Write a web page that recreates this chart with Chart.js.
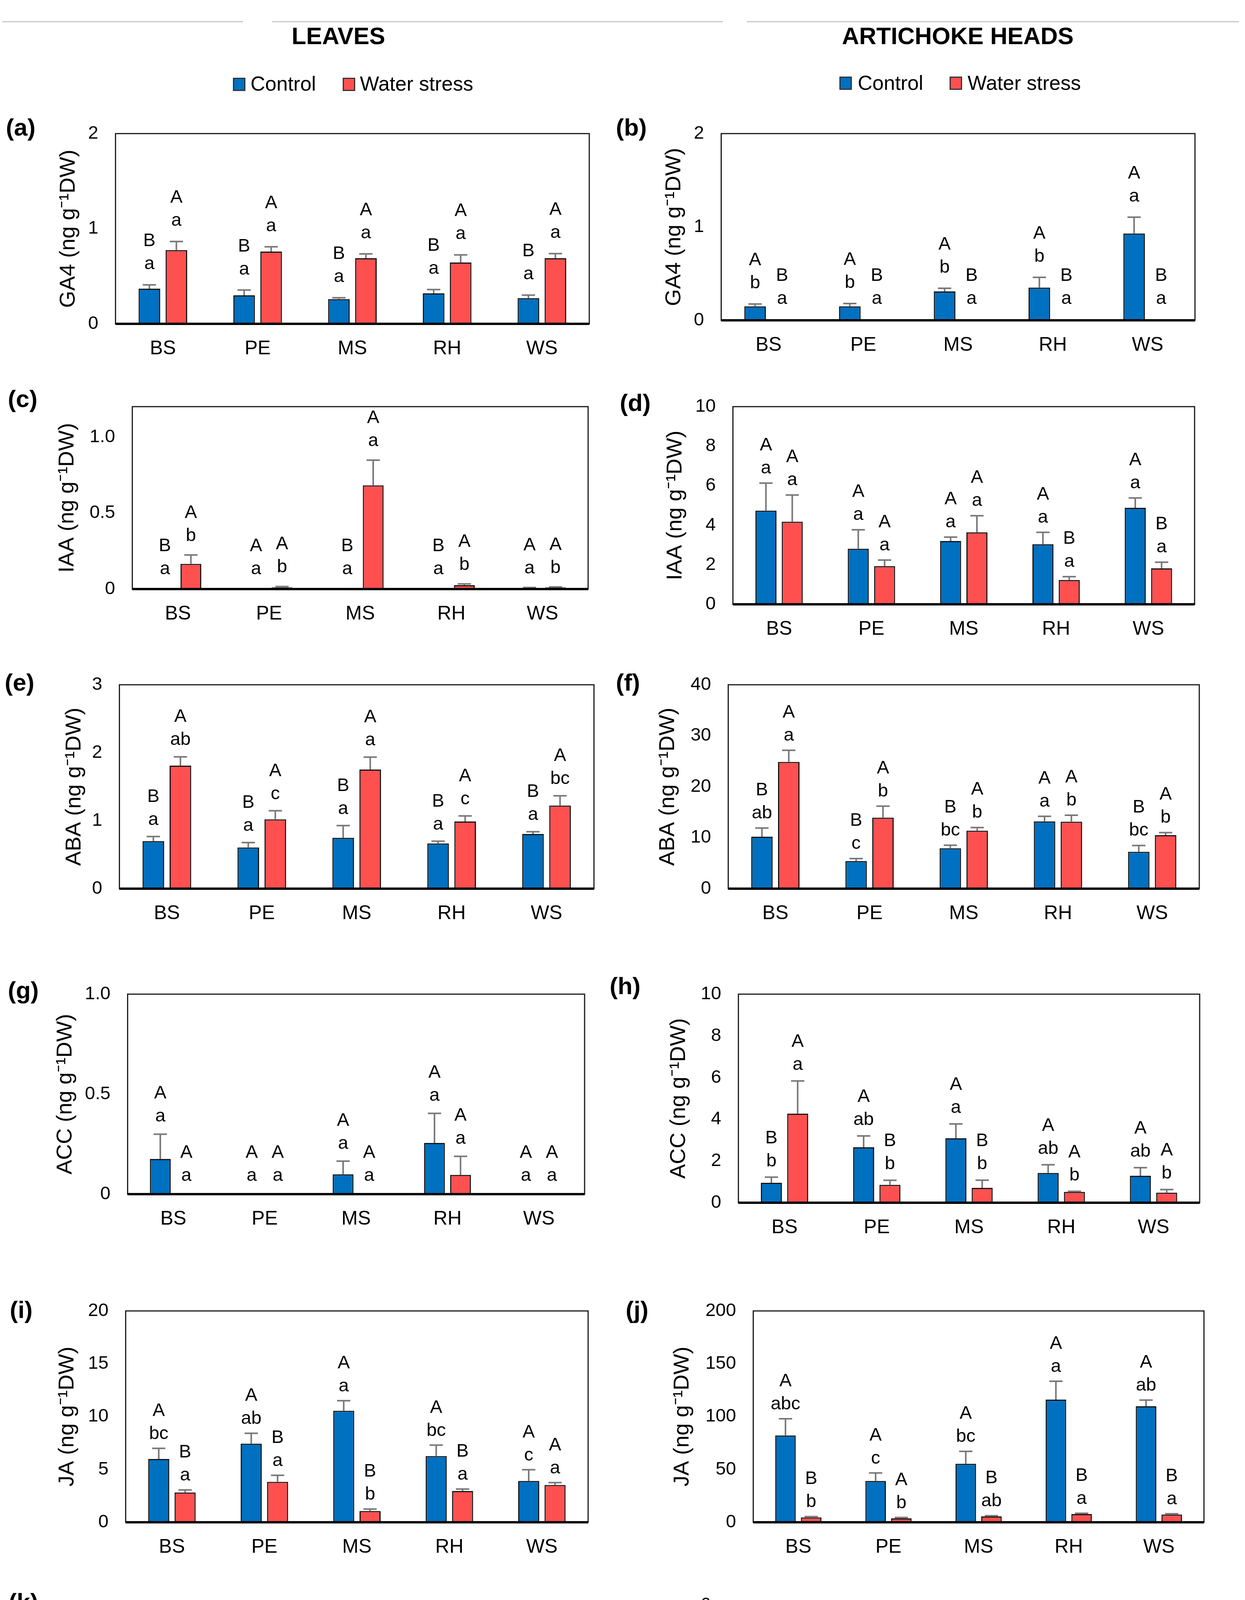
<!DOCTYPE html>
<html>
<head>
<meta charset="utf-8">
<script src="https://cdn.jsdelivr.net/npm/chart.js@4.4.1/dist/chart.umd.min.js"></script>
<style>
html, body { margin: 0; padding: 0; background: #fff; }
body { width: 3186px; height: 4746px; position: relative; overflow: hidden;
       font-family: 'Liberation Sans', Arial, sans-serif; color: #000; }
canvas { position: absolute; }
.hline { position: absolute; top: 54px; height: 3px; background: #c8c8c8; }
.head { position: absolute; top: 62px; font-weight: bold; font-size: 61px; line-height: 1;
        white-space: nowrap; transform: translateX(-50%); }
.sw { position: absolute; width: 26px; height: 28px; border: 3px solid #333; }
.legtxt { position: absolute; font-size: 52px; line-height: 1; white-space: nowrap; }
.plab { position: absolute; font-weight: bold; font-size: 62px; line-height: 1; }
</style>
</head>
<body>

<div class="hline" style="left:6px;width:616px"></div>
<div class="hline" style="left:696px;width:1154px"></div>
<div class="hline" style="left:1911px;width:1259px"></div>

<div class="head" style="left:866px">LEAVES</div>
<div class="head" style="left:2451px">ARTICHOKE HEADS</div>

<div class="sw" style="left:596px;top:199px;background:#0070C0"></div>
<div class="legtxt" style="left:641px;top:188px">Control</div>
<div class="sw" style="left:877px;top:199px;background:#FF5050"></div>
<div class="legtxt" style="left:921px;top:188px">Water stress</div>

<div class="sw" style="left:2148px;top:196px;background:#0070C0"></div>
<div class="legtxt" style="left:2195px;top:186px">Control</div>
<div class="sw" style="left:2430px;top:196px;background:#FF5050"></div>
<div class="legtxt" style="left:2476px;top:186px">Water stress</div>

<script>
const categories = ['BS', 'PE', 'MS', 'RH', 'WS'];

// (a) GA4 leaves
const ga4LCtrl = [0.37, 0.30, 0.26, 0.32, 0.27];
const ga4LCtrlSe = [0.04, 0.055, 0.014, 0.04, 0.032];
const ga4LWs = [0.775, 0.76, 0.69, 0.645, 0.69];
const ga4LWsSe = [0.09, 0.05, 0.045, 0.08, 0.048];
const ga4LCtrlLet = ['B a', 'B a', 'B a', 'B a', 'B a'];
const ga4LWsLet = ['A a', 'A a', 'A a', 'A a', 'A a'];

// (b) GA4 heads
const ga4HCtrl = [0.15, 0.15, 0.31, 0.35, 0.93];
const ga4HCtrlSe = [0.025, 0.03, 0.033, 0.11, 0.175];
const ga4HWs = [0.01, 0.01, 0.01, 0.01, 0.01];
const ga4HWsSe = [0, 0, 0, 0, 0];
const ga4HCtrlLet = ['A b', 'A b', 'A b', 'A b', 'A a'];
const ga4HWsLet = ['B a', 'B a', 'B a', 'B a', 'B a'];

// (c) IAA leaves
const iaaLCtrl = [0.004, 0.004, 0.004, 0.004, 0.008];
const iaaLCtrlSe = [0, 0, 0, 0, 0.002];
const iaaLWs = [0.166, 0.011, 0.682, 0.026, 0.01];
const iaaLWsSe = [0.058, 0.006, 0.166, 0.008, 0.004];
const iaaLCtrlLet = ['B a', 'A a', 'B a', 'B a', 'A a'];
const iaaLWsLet = ['A b', 'A b', 'A a', 'A b', 'A b'];

// (d) IAA heads
const iaaHCtrl = [4.74, 2.81, 3.20, 3.04, 4.88];
const iaaHCtrlSe = [1.39, 0.96, 0.20, 0.60, 0.50];
const iaaHWs = [4.18, 1.93, 3.64, 1.23, 1.82];
const iaaHWsSe = [1.35, 0.31, 0.84, 0.17, 0.31];
const iaaHCtrlLet = ['A a', 'A a', 'A a', 'A a', 'A a'];
const iaaHWsLet = ['A a', 'A a', 'A a', 'B a', 'B a'];

// (e) ABA leaves
const abaLCtrl = [0.70, 0.607, 0.749, 0.665, 0.804];
const abaLCtrlSe = [0.067, 0.071, 0.179, 0.033, 0.033];
const abaLWs = [1.81, 1.02, 1.753, 0.989, 1.222];
const abaLWsSe = [0.13, 0.126, 0.182, 0.081, 0.144];
const abaLCtrlLet = ['B a', 'B a', 'B a', 'B a', 'B a'];
const abaLWsLet = ['A ab', 'A c', 'A a', 'A c', 'A bc'];

// (f) ABA heads
const abaHCtrl = [10.2, 5.43, 7.93, 13.19, 7.25];
const abaHCtrlSe = [1.7, 0.47, 0.6, 1.01, 1.22];
const abaHWs = [24.86, 13.93, 11.37, 13.15, 10.49];
const abaHWsSe = [2.29, 2.26, 0.63, 1.25, 0.51];
const abaHCtrlLet = ['B ab', 'B c', 'B bc', 'A a', 'B bc'];
const abaHWsLet = ['A a', 'A b', 'A b', 'A b', 'A b'];

// (g) ACC leaves
const accLCtrl = [0.176, 0.004, 0.099, 0.256, 0.004];
const accLCtrlSe = [0.124, 0, 0.066, 0.148, 0];
const accLWs = [0.004, 0.004, 0.004, 0.096, 0.004];
const accLWsSe = [0, 0, 0, 0.093, 0];
const accLCtrlLet = ['A a', 'A a', 'A a', 'A a', 'A a'];
const accLWsLet = ['A a', 'A a', 'A a', 'A a', 'A a'];

// (h) ACC heads
const accHCtrl = [0.956, 2.66, 3.09, 1.43, 1.29];
const accHCtrlSe = [0.27, 0.54, 0.69, 0.39, 0.39];
const accHWs = [4.27, 0.857, 0.71, 0.52, 0.48];
const accHWsSe = [1.57, 0.22, 0.37, 0.03, 0.15];
const accHCtrlLet = ['B b', 'A ab', 'A a', 'A ab', 'A ab'];
const accHWsLet = ['A a', 'B b', 'B b', 'A b', 'A b'];

// (i) JA leaves
const jaLCtrl = [5.99, 7.44, 10.55, 6.27, 3.91];
const jaLCtrlSe = [1.01, 0.98, 0.96, 1.03, 1.06];
const jaLWs = [2.82, 3.83, 1.06, 2.96, 3.53];
const jaLWsSe = [0.24, 0.62, 0.19, 0.18, 0.22];
const jaLCtrlLet = ['A bc', 'A ab', 'A a', 'A bc', 'A c'];
const jaLWsLet = ['B a', 'B a', 'B b', 'B a', 'A a'];

// (j) JA heads
const jaHCtrl = [82.2, 39.1, 55.4, 116.1, 109.8];
const jaHCtrlSe = [15.8, 7.6, 11.7, 17.4, 5.8];
const jaHWs = [4.6, 3.7, 5.5, 7.8, 7.3];
const jaHWsSe = [0.8, 0.8, 0.7, 0.7, 0.7];
const jaHCtrlLet = ['A abc', 'A c', 'A bc', 'A a', 'A ab'];
const jaHWsLet = ['B b', 'A b', 'B ab', 'B a', 'B a'];

// (k) SA leaves
const saLCtrl = [2.69, 1.38, 1.68, 2.60, 2.94];
const saLCtrlSe = [0.26, 0.13, 0.15, 0.40, 0.14];
const saLWs = [10.78, 8.57, 2.21, 4.92, 6.71];
const saLWsSe = [0.17, 1.12, 0.13, 0.20, 1.42];
const saLCtrlLet = ['B ab', 'B c', 'A bc', 'B ab', 'B a'];
const saLWsLet = ['A a', 'A ab', 'A d', 'A cd', 'A bc'];

// (l) SA heads
const saHCtrl = [3.41, 3.06, 2.72, 3.02, 2.50];
const saHCtrlSe = [0.48, 0.29, 0.12, 0.32, 0.09];
const saHWs = [1.48, 1.71, 1.76, 1.77, 1.48];
const saHWsSe = [0.33, 0.11, 0.21, 0.32, 0.19];
const saHCtrlLet = ['A a', 'A a', 'A a', 'A a', 'A a'];
const saHWsLet = ['B a', 'B a', 'B a', 'B a', 'B a'];

const unit = ' (ng g\u207B\u00B9DW)';
const oneDec = v => v === 0 ? '0' : v.toFixed(1);
const plain = v => String(v);

// box = plot frame [left, top, right, bottom] in page px; off = distance of the y title from the frame
const panels = [
  { tag: '(a)', tx: 15, ty: 295, box: [296, 342, 1508, 829], off: 120, gap: 52, title: 'GA4' + unit, max: 2, step: 1, fmt: plain,
    ctrl: ga4LCtrl, ctrlSe: ga4LCtrlSe, ws: ga4LWs, wsSe: ga4LWsSe, ctrlLet: ga4LCtrlLet, wsLet: ga4LWsLet },
  { tag: '(b)', tx: 1576, ty: 295, box: [1846, 342, 3058, 820], off: 120, gap: 52, title: 'GA4' + unit, max: 2, step: 1, fmt: plain,
    ctrl: ga4HCtrl, ctrlSe: ga4HCtrlSe, ws: ga4HWs, wsSe: ga4HWsSe, ctrlLet: ga4HCtrlLet, wsLet: ga4HWsLet },
  { tag: '(c)', tx: 20, ty: 990, box: [339, 1041, 1505, 1508], off: 166, gap: 48, title: 'IAA' + unit, max: 1.2, step: 0.5, fmt: oneDec,
    ctrl: iaaLCtrl, ctrlSe: iaaLCtrlSe, ws: iaaLWs, wsSe: iaaLWsSe, ctrlLet: iaaLCtrlLet, wsLet: iaaLWsLet },
  { tag: '(d)', tx: 1586, ty: 1000, box: [1876, 1041, 3057, 1547], off: 147, gap: 37, title: 'IAA' + unit, max: 10, step: 2, fmt: plain,
    ctrl: iaaHCtrl, ctrlSe: iaaHCtrlSe, ws: iaaHWs, wsSe: iaaHWsSe, ctrlLet: iaaHCtrlLet, wsLet: iaaHWsLet },
  { tag: '(e)', tx: 12, ty: 1716, box: [306, 1753, 1520, 2275], off: 115, gap: 42, title: 'ABA' + unit, max: 3, step: 1, fmt: plain,
    ctrl: abaLCtrl, ctrlSe: abaLCtrlSe, ws: abaLWs, wsSe: abaLWsSe, ctrlLet: abaLCtrlLet, wsLet: abaLWsLet },
  { tag: '(f)', tx: 1576, ty: 1716, box: [1864, 1753, 3069, 2275], off: 154, gap: 37, title: 'ABA' + unit, max: 40, step: 10, fmt: plain,
    ctrl: abaHCtrl, ctrlSe: abaHCtrlSe, ws: abaHWs, wsSe: abaHWsSe, ctrlLet: abaHCtrlLet, wsLet: abaHWsLet },
  { tag: '(g)', tx: 20, ty: 2504, box: [327, 2545, 1496, 3057], off: 159, gap: 44, title: 'ACC' + unit, max: 1, step: 0.5, fmt: oneDec,
    ctrl: accLCtrl, ctrlSe: accLCtrlSe, ws: accLWs, wsSe: accLWsSe, ctrlLet: accLCtrlLet, wsLet: accLWsLet },
  { tag: '(h)', tx: 1560, ty: 2493, box: [1890, 2545, 3070, 3079], off: 152, gap: 40, title: 'ACC' + unit, max: 10, step: 2, fmt: plain,
    ctrl: accHCtrl, ctrlSe: accHCtrlSe, ws: accHWs, wsSe: accHWsSe, ctrlLet: accHCtrlLet, wsLet: accHWsLet },
  { tag: '(i)', tx: 25, ty: 3322, box: [322, 3356, 1505, 3897], off: 149, gap: 36, title: 'JA' + unit, max: 20, step: 5, fmt: plain,
    ctrl: jaLCtrl, ctrlSe: jaLCtrlSe, ws: jaLWs, wsSe: jaLWsSe, ctrlLet: jaLCtrlLet, wsLet: jaLWsLet },
  { tag: '(j)', tx: 1601, ty: 3322, box: [1928, 3356, 3081, 3897], off: 181, gap: 36, title: 'JA' + unit, max: 200, step: 50, fmt: plain,
    ctrl: jaHCtrl, ctrlSe: jaHCtrlSe, ws: jaHWs, wsSe: jaHWsSe, ctrlLet: jaHCtrlLet, wsLet: jaHWsLet },
  { tag: '(k)', tx: 22, ty: 4070, box: [335, 4127, 1546, 4635], off: 151, gap: 44, title: 'SA' + unit, max: 15, step: 5, fmt: plain,
    ctrl: saLCtrl, ctrlSe: saLCtrlSe, ws: saLWs, wsSe: saLWsSe, ctrlLet: saLCtrlLet, wsLet: saLWsLet },
  { tag: '(l)', tx: 1612, ty: 4098, box: [1863, 4109, 3056, 4635], off: 122, gap: 30, title: 'SA' + unit, max: 6, step: 1, fmt: plain,
    ctrl: saHCtrl, ctrlSe: saHCtrlSe, ws: saHWs, wsSe: saHWsSe, ctrlLet: saHCtrlLet, wsLet: saHWsLet }
];

// top room must exceed half a tick label plus the tick padding, or Chart.js pushes the plot down
const PAD_T = 80, PAD_R = 20, X_H = 110, TITLE_SIZE = 56;

Chart.defaults.font.family = "'Liberation Sans', Arial, sans-serif";
Chart.defaults.color = '#000';

// error bars (upper half only) and the two significance letters above each bar
const barMarks = {
  id: 'barMarks',
  afterDatasetsDraw(chart, args, opts) {
    const ctx = chart.ctx;
    const yScale = chart.scales.y;
    chart.data.datasets.forEach((ds, i) => {
      chart.getDatasetMeta(i).data.forEach((bar, j) => {
        const top = yScale.getPixelForValue(ds.data[j] + ds.errors[j]);
        ctx.save();
        if (ds.errors[j] > 0) {
          ctx.strokeStyle = '#787878';
          ctx.lineWidth = 4;
          ctx.beginPath();
          ctx.moveTo(bar.x, bar.y);
          ctx.lineTo(bar.x, top);
          ctx.moveTo(bar.x - 17, top);
          ctx.lineTo(bar.x + 17, top);
          ctx.stroke();
        }
        const parts = ds.letters[j].split(' ');
        ctx.fillStyle = '#000';
        ctx.font = "47px 'Liberation Sans', Arial, sans-serif";
        ctx.textAlign = 'center';
        ctx.textBaseline = 'alphabetic';
        ctx.fillText(parts[1], bar.x, top - opts.gap + 12);
        ctx.fillText(parts[0], bar.x, top - opts.gap - 47);
        ctx.restore();
      });
    });
  }
};

// black frame round the plot area, heavier along the x axis
const frame = {
  id: 'frame',
  afterDatasetsDraw(chart) {
    const { left, top, right, bottom } = chart.chartArea;
    const ctx = chart.ctx;
    ctx.save();
    ctx.strokeStyle = '#1a1a1a';
    ctx.lineWidth = 3;
    ctx.strokeRect(left, top, right - left, bottom - top);
    ctx.strokeStyle = '#000';
    ctx.lineWidth = 6;
    ctx.beginPath();
    ctx.moveTo(left, bottom);
    ctx.lineTo(right, bottom);
    ctx.stroke();
    ctx.restore();
  }
};

panels.forEach(p => {
  const lab = document.createElement('div');
  lab.className = 'plab';
  lab.style.left = p.tx + 'px';
  lab.style.top = p.ty + 'px';
  lab.textContent = p.tag;
  document.body.appendChild(lab);

  const yw = p.off + TITLE_SIZE * 1.2 / 2;
  const w = Math.round(yw + (p.box[2] - p.box[0]) + PAD_R);
  const h = PAD_T + (p.box[3] - p.box[1]) + X_H;
  const cv = document.createElement('canvas');
  cv.width = w;
  cv.height = h;
  cv.style.left = (p.box[0] - yw) + 'px';
  cv.style.top = (p.box[1] - PAD_T) + 'px';
  cv.style.width = w + 'px';
  cv.style.height = h + 'px';
  document.body.appendChild(cv);

  // only label the round steps (the axis may end on an odd maximum such as 1.2)
  const tickLabel = v => {
    const k = v / p.step;
    return Math.abs(k - Math.round(k)) > 1e-6 ? null : p.fmt(v);
  };

  new Chart(cv, {
    type: 'bar',
    data: {
      labels: categories,
      datasets: [
        { label: 'Control', data: p.ctrl, errors: p.ctrlSe, letters: p.ctrlLet,
          backgroundColor: '#0070C0', borderColor: '#141414', borderWidth: 3 },
        { label: 'Water stress', data: p.ws, errors: p.wsSe, letters: p.wsLet,
          backgroundColor: '#FF5050', borderColor: '#141414', borderWidth: 3 }
      ]
    },
    options: {
      responsive: false,
      animation: false,
      devicePixelRatio: 1,
      layout: { padding: { top: PAD_T, right: PAD_R, left: 0, bottom: 0 } },
      datasets: { bar: { categoryPercentage: 0.57, barPercentage: 0.8 } },
      plugins: {
        legend: { display: false },
        tooltip: { enabled: false },
        barMarks: { gap: p.gap }
      },
      scales: {
        x: {
          grid: { display: false, drawTicks: false },
          border: { display: false },
          ticks: { font: { size: 50 }, padding: 34, color: '#000' },
          afterFit(s) { s.height = X_H; }
        },
        y: {
          min: 0,
          max: p.max,
          bounds: 'data',
          grid: { display: false, drawTicks: false },
          border: { display: false },
          ticks: { stepSize: p.step, includeBounds: false, font: { size: 47 }, padding: 44,
                   color: '#000', callback: tickLabel },
          title: { display: true, text: p.title, color: '#000', font: { size: TITLE_SIZE }, padding: 0 },
          afterFit(s) { s.width = yw; }
        }
      }
    },
    plugins: [barMarks, frame]
  });
});
</script>
</body>
</html>
